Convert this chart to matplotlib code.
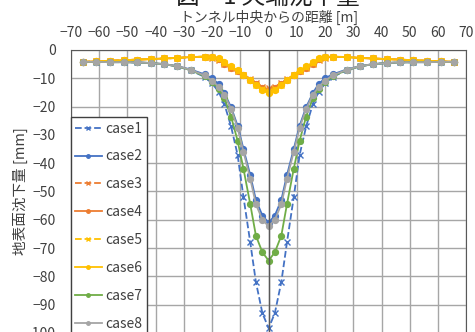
import matplotlib
matplotlib.use("Agg")
import matplotlib.pyplot as plt

plt.rcParams['font.family'] = ['Noto Sans CJK JP', 'DejaVu Sans']

# distance from tunnel centre [m]
x = [-65.6, -61.0, -56.2, -51.3, -46.5, -41.8, -37.0, -32.3, -27.6, -22.7,
     -20.0, -17.7, -15.7, -13.3, -11.0, -8.9, -6.5, -4.5, -2.2, 0.0,
     2.2, 4.5, 6.5, 8.9, 11.0, 13.3, 15.7, 17.7, 20.0,
     22.7, 27.6, 32.3, 37.0, 41.8, 46.5, 51.3, 56.2, 61.0, 65.6]

# surface settlement [mm]
case1 = [-4.2, -4.2, -4.3, -4.3, -4.4, -4.6, -5.0, -5.8, -7.2, -9.5,
         -11.8, -14.8, -19.0, -27.0, -37.0, -52.0, -68.0, -82.0, -93.0, -98.3,
         -93.0, -82.0, -68.0, -52.0, -37.0, -27.0, -19.0, -14.8, -11.8,
         -9.5, -7.2, -5.8, -5.0, -4.6, -4.4, -4.3, -4.3, -4.2, -4.2]
case2 = [-4.2, -4.2, -4.3, -4.3, -4.4, -4.6, -5.0, -5.7, -6.9, -8.6,
         -10.0, -12.0, -15.2, -20.2, -26.7, -35.0, -44.2, -53.0, -58.5, -61.0,
         -58.5, -53.0, -44.2, -35.0, -26.7, -20.2, -15.2, -12.0, -10.0,
         -8.6, -6.9, -5.7, -5.0, -4.6, -4.4, -4.3, -4.3, -4.2, -4.2]
case3 = [-4.2, -4.0, -3.8, -3.6, -3.4, -3.2, -3.0, -2.8, -2.5, -2.4,
         -2.7, -3.4, -4.9, -6.2, -7.5, -8.8, -10.3, -11.7, -13.0, -13.6,
         -13.0, -11.7, -10.3, -8.8, -7.5, -6.2, -4.9, -3.4, -2.7,
         -2.4, -2.5, -2.8, -3.0, -3.2, -3.4, -3.6, -3.8, -4.0, -4.2]
case4 = [-4.2, -4.0, -3.8, -3.6, -3.4, -3.2, -3.0, -2.8, -2.5, -2.4,
         -2.6, -3.3, -4.8, -6.2, -7.5, -8.9, -10.5, -12.0, -13.4, -14.0,
         -13.4, -12.0, -10.5, -8.9, -7.5, -6.2, -4.8, -3.3, -2.6,
         -2.4, -2.5, -2.8, -3.0, -3.2, -3.4, -3.6, -3.8, -4.0, -4.2]
case5 = [-4.2, -4.0, -3.8, -3.6, -3.4, -3.2, -3.0, -2.8, -2.5, -2.3,
         -2.5, -3.1, -4.6, -6.0, -7.3, -8.8, -10.6, -12.3, -13.9, -14.6,
         -13.9, -12.3, -10.6, -8.8, -7.3, -6.0, -4.6, -3.1, -2.5,
         -2.3, -2.5, -2.8, -3.0, -3.2, -3.4, -3.6, -3.8, -4.0, -4.2]
case6 = [-4.2, -4.0, -3.8, -3.6, -3.4, -3.2, -3.0, -2.8, -2.5, -2.3,
         -2.4, -2.9, -4.4, -5.8, -7.2, -8.7, -10.6, -12.4, -14.3, -15.2,
         -14.3, -12.4, -10.6, -8.7, -7.2, -5.8, -4.4, -2.9, -2.4,
         -2.3, -2.5, -2.8, -3.0, -3.2, -3.4, -3.6, -3.8, -4.0, -4.2]
case7 = [-4.2, -4.2, -4.3, -4.3, -4.4, -4.6, -5.0, -5.8, -7.1, -9.3,
         -11.3, -13.8, -17.0, -23.5, -32.0, -42.0, -54.5, -65.6, -71.5, -74.4,
         -71.5, -65.6, -54.5, -42.0, -32.0, -23.5, -17.0, -13.8, -11.3,
         -9.3, -7.1, -5.8, -5.0, -4.6, -4.4, -4.3, -4.3, -4.2, -4.2]
case8 = [-4.2, -4.2, -4.3, -4.3, -4.4, -4.6, -5.0, -5.7, -7.0, -9.0,
         -10.8, -13.0, -15.8, -20.8, -27.5, -36.0, -45.5, -54.5, -60.0, -62.3,
         -60.0, -54.5, -45.5, -36.0, -27.5, -20.8, -15.8, -13.0, -10.8,
         -9.0, -7.0, -5.7, -5.0, -4.6, -4.4, -4.3, -4.3, -4.2, -4.2]

series = [case1, case2, case3, case4, case5, case6, case7, case8]
labels = ['case1', 'case2', 'case3', 'case4', 'case5', 'case6', 'case7', 'case8']
colors = ['#4472C4', '#4472C4', '#ED7D31', '#ED7D31',
          '#FFC000', '#FFC000', '#70AD47', '#A5A5A5']
styles = ['--', '-', '--', '-', '--', '-', '-', '-']
markers = ['x', 'o', 'x', 'o', 'x', 'o', 'o', 'o']

TEXT = '#404040'

fig = plt.figure(figsize=(4.75, 3.32), dpi=100)
ax = fig.add_axes([0.1495, -0.003, 0.832, 0.8524])

for ys, lab, c, ls, m in zip(series, labels, colors, styles, markers):
    ax.plot(x, ys, linestyle=ls, color=c, marker=m, markersize=4.2,
            markeredgewidth=1.0, linewidth=1.3, label=lab)

ax.set_xlim(-70, 70)
ax.set_ylim(-100, 0)
ax.set_xticks(range(-70, 71, 10))
ax.set_yticks(range(-100, 1, 10))
ax.xaxis.tick_top()
ax.tick_params(length=0, labelsize=10, labelcolor=TEXT, pad=7)
ax.tick_params(axis='y', pad=11)
ax.grid(True, color='#A6A6A6', linewidth=1.0)
ax.axvline(0, color='#595959', linewidth=1.0)
for s in ax.spines.values():
    s.set_color('#595959')

ax.set_xlabel('トンネル中央からの距離 [m]', fontsize=10, color=TEXT, labelpad=3)
ax.xaxis.set_label_position('top')
ax.set_ylabel('地表面沈下量 [mm]', fontsize=10.5, color=TEXT)
ax.yaxis.set_label_coords(-0.108, 0.5)

leg = ax.legend(loc='upper left', bbox_to_anchor=(0.0, 0.762), borderaxespad=0,
                fontsize=10, handlelength=1.9, labelspacing=1.0,
                markerscale=0.6, fancybox=False, framealpha=1.0,
                borderpad=0.3, handletextpad=0.3)
leg.get_frame().set_edgecolor('#404040')
leg.get_frame().set_linewidth(1.0)
for t in leg.get_texts():
    t.set_color(TEXT)

fig.text(0.565, 1 - 9 / 332, '図－1 天端沈下量', fontsize=17, color='#202020',
         ha='center', va='bottom')

fig.savefig('out.png', dpi=100)
